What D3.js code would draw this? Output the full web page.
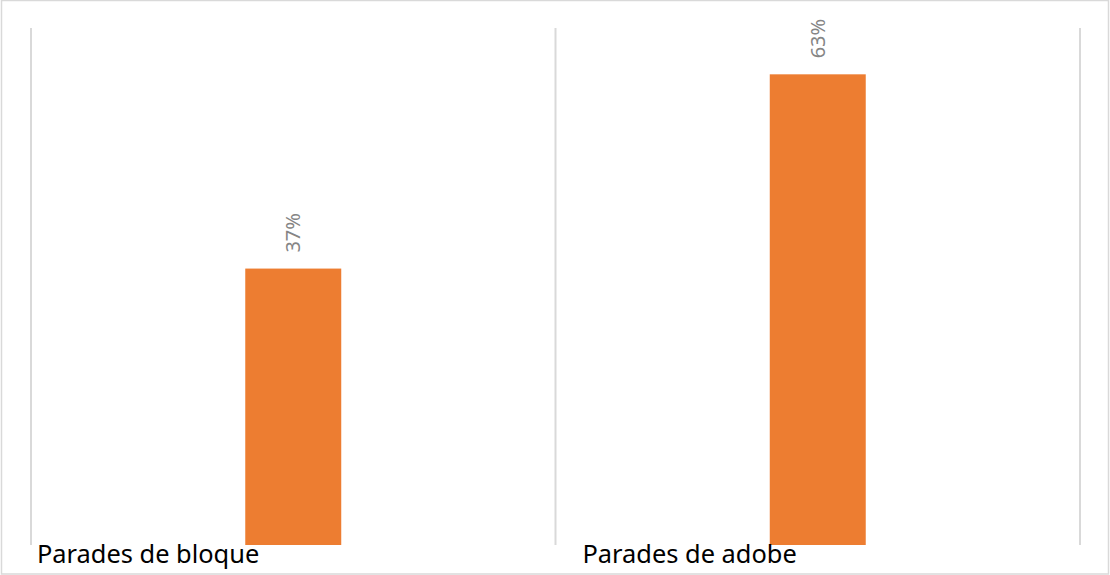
<!DOCTYPE html>
<html>
<head>
<meta charset="utf-8">
<script src="https://cdn.jsdelivr.net/npm/d3@7"></script>
<style>
  html, body { margin: 0; padding: 0; background: #fff; }
  svg { display: block; }
</style>
</head>
<body>
<div id="chart"></div>
<script>
// Data
const categories = ['Parades de bloque', 'Parades de adobe'];
const values = [0.37, 0.63];
const valueLabels = ['37%', '63%'];

const width = 1110, height = 575;
const plot = { left: 31, right: 1080, top: 28, bottom: 545 };

const svg = d3.select('#chart')
  .append('svg')
  .attr('width', width)
  .attr('height', height);

// Chart border
svg.append('rect')
  .attr('x', 1.5)
  .attr('y', 0.5)
  .attr('width', 1107)
  .attr('height', 573.5)
  .style('fill', '#fff')
  .style('stroke', '#d9d9d9')
  .style('stroke-width', 1.5);

// Scales
const xScale = d3.scaleBand()
  .domain(categories)
  .range([plot.left, plot.right])
  .padding(0);

const yScale = d3.scaleLinear()
  .domain([0, 0.692])
  .range([plot.bottom, plot.top]);

// Vertical gridlines on category boundaries
const bounds = categories.map(c => xScale(c)).concat([plot.right]);
svg.append('g')
  .attr('class', 'grid')
  .selectAll('line')
  .data(bounds)
  .enter().append('line')
  .attr('x1', d => d)
  .attr('x2', d => d)
  .attr('y1', yScale.range()[1])
  .attr('y2', yScale(0))
  .style('stroke', '#d9d9d9')
  .style('stroke-width', 2);

// Bars
const barW = xScale.bandwidth() * 0.183;
svg.append('g')
  .selectAll('rect')
  .data(values)
  .enter().append('rect')
  .attr('x', (d, i) => xScale(categories[i]) + xScale.bandwidth() / 2 - barW / 2)
  .attr('y', d => yScale(d))
  .attr('width', barW)
  .attr('height', d => yScale(0) - yScale(d))
  .style('fill', '#ED7D31');

// Rotated value labels
svg.append('g')
  .selectAll('text')
  .data(values)
  .enter().append('text')
  .attr('transform', (d, i) => {
    const cx = xScale(categories[i]) + xScale.bandwidth() / 2 + 7;
    return `translate(${cx},${yScale(d) - 16}) rotate(-90)`;
  })
  .attr('text-anchor', 'start')
  .style('font-family', '"Noto Sans", sans-serif')
  .style('font-size', '20px')
  .style('fill', '#858585')
  .text((d, i) => valueLabels[i]);

// Category labels
const labelOffsets = [6, 27];
svg.append('g')
  .selectAll('text')
  .data(categories)
  .enter().append('text')
  .attr('x', (d, i) => xScale(d) + labelOffsets[i])
  .attr('y', 563)
  .style('font-family', '"Noto Sans", sans-serif')
  .style('font-size', '25.4px')
  .style('fill', '#000')
  .text(d => d);
</script>
</body>
</html>
